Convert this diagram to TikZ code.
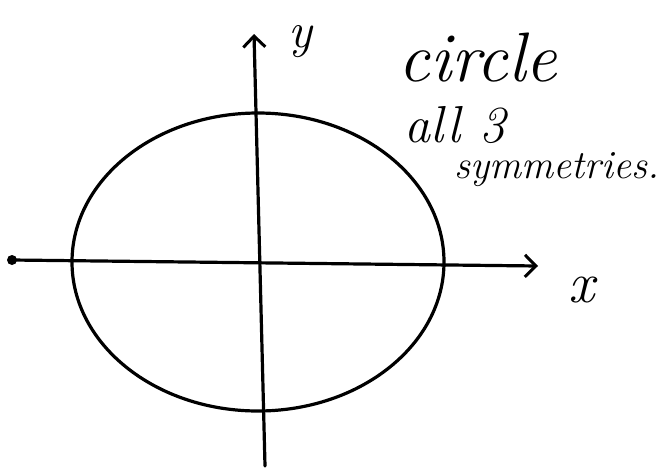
\documentclass[tikz,border=0pt]{standalone}
\usepackage{tikz}
\usetikzlibrary{arrows.meta}

\begin{document}
\begin{tikzpicture}[
  x=1pt, y=-1pt,
  >={Straight Barb[length=11pt, width=22pt, line width=3pt]},
  % --- styles ---
  axis/.style={->, line width=3.2pt, line cap=round},
  curve/.style={line width=3.2pt},
  hand/.style={text=black, inner sep=0pt},
]
\useasboundingbox (0,0) rectangle (669,472);

% === axis end points ===
\coordinate (xstart) at (12,260);
\coordinate (xend)   at (538,266);
\coordinate (ystart) at (265,466);
\coordinate (yend)   at (254,34);

% ---------- circle ----------
\draw[curve] (258,262) ellipse [x radius=186, y radius=149];

% ---------- axes ----------
\draw[axis] (xstart) -- (xend);
\draw[axis] (ystart) -- (yend);
\fill (xstart) circle (5pt);

% ---------- labels ----------
\node[hand, font=\fontsize{50}{52}\selectfont\itshape] (ylbl) at (300,42) {y};
\node[hand, font=\fontsize{58}{60}\selectfont\itshape] (xlbl) at (582,290) {x};
\node[hand, font=\fontsize{70}{72}\selectfont\itshape] (title) at (478,58) {circle};
\node[hand, font=\fontsize{52}{54}\selectfont\itshape] (all) at (455,125) {all 3};
\node[hand, font=\fontsize{40}{42}\selectfont\itshape] (sym) at (557,170) {symmetries.};

\end{tikzpicture}
\end{document}
